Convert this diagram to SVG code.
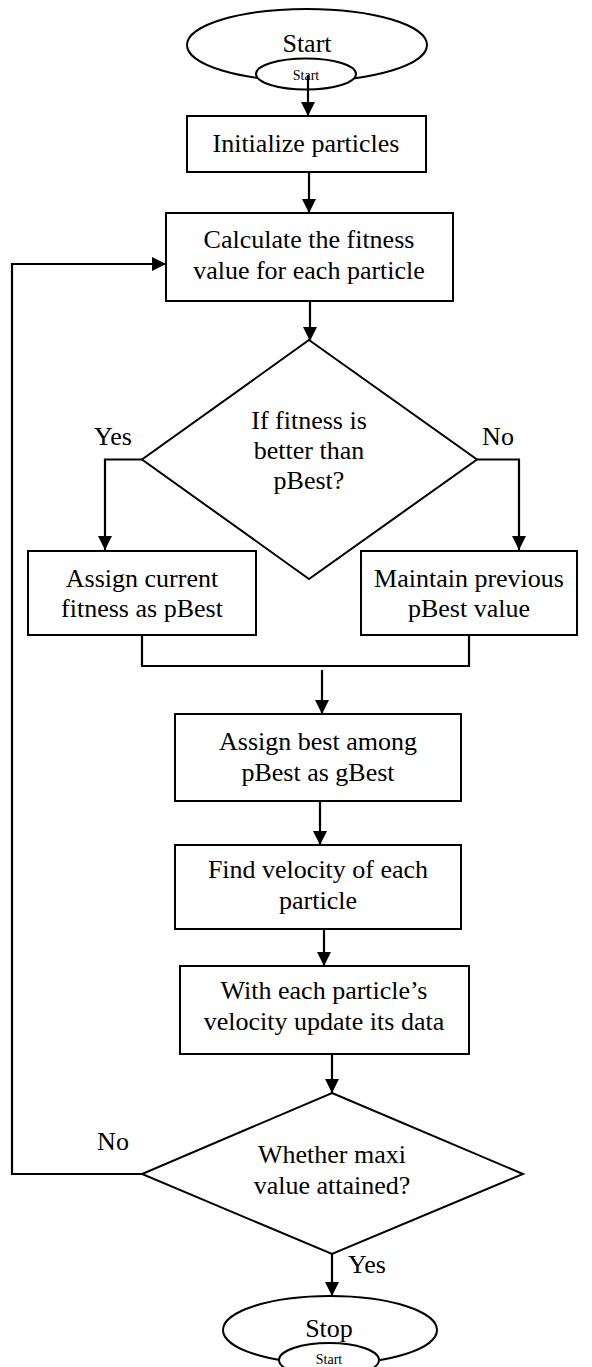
<svg xmlns="http://www.w3.org/2000/svg" width="592" height="1367" viewBox="0 0 592 1367">
<style>
  .shape { fill: #ffffff; stroke: #000000; stroke-width: 2; }
  .conn { fill: none; stroke: #000000; stroke-width: 2.2; }
  .t { font-family: "Liberation Serif", "Times New Roman", serif; font-size: 26px; fill: #000000; text-anchor: middle; }
  .ts { font-family: "Liberation Serif", "Times New Roman", serif; font-size: 14px; fill: #000000; text-anchor: middle; }
</style>
<defs>
  <marker id="arr" markerUnits="userSpaceOnUse" markerWidth="14" markerHeight="16" refX="14" refY="7" orient="auto">
    <path d="M0,0 L14,7 L0,14 Z" fill="#000000"/>
  </marker>
</defs>
<rect width="592" height="1367" fill="#ffffff"/>

<g id="start">
  <ellipse class="shape" cx="307" cy="45" rx="120" ry="36"/>
  <text class="t" x="307" y="52">Start</text>
  <ellipse class="shape" cx="306" cy="74" rx="50" ry="15.5"/>
  <text class="ts" x="306" y="80">Start</text>
</g>

<g id="init">
  <rect class="shape" x="187" y="116" width="239" height="56"/>
  <text class="t" x="306" y="152">Initialize particles</text>
</g>

<g id="calc">
  <rect class="shape" x="166" y="213" width="287" height="88"/>
  <text class="t" x="309" y="248">Calculate the fitness</text>
  <text class="t" x="309" y="279">value for each particle</text>
</g>

<g id="dec1">
  <polygon class="shape" points="309,340 477,459.5 309,579 142,459.5"/>
  <text class="t" x="309" y="429">If fitness is</text>
  <text class="t" x="309" y="459">better than</text>
  <text class="t" x="309" y="489">pBest?</text>
</g>

<g id="assign-current">
  <rect class="shape" x="28" y="551" width="228" height="84"/>
  <text class="t" x="142" y="587">Assign current</text>
  <text class="t" x="142" y="617">fitness as pBest</text>
</g>

<g id="maintain">
  <rect class="shape" x="361" y="551" width="216" height="84"/>
  <text class="t" x="469" y="587">Maintain previous</text>
  <text class="t" x="469" y="617">pBest value</text>
</g>

<g id="gbest">
  <rect class="shape" x="175" y="714" width="286" height="87"/>
  <text class="t" x="318" y="750">Assign best among</text>
  <text class="t" x="318" y="781">pBest as gBest</text>
</g>

<g id="velocity">
  <rect class="shape" x="175" y="845" width="286" height="84"/>
  <text class="t" x="318" y="878">Find velocity of each</text>
  <text class="t" x="318" y="909">particle</text>
</g>

<g id="update">
  <rect class="shape" x="180" y="966" width="289" height="88"/>
  <text class="t" x="324" y="999">With each particle’s</text>
  <text class="t" x="324" y="1030">velocity update its data</text>
</g>

<g id="dec2">
  <polygon class="shape" points="332,1093 523,1174 332,1254 142,1174"/>
  <text class="t" x="332" y="1163">Whether maxi</text>
  <text class="t" x="332" y="1194">value attained?</text>
</g>

<g id="stop">
  <ellipse class="shape" cx="330" cy="1330" rx="107" ry="34"/>
  <text class="t" x="329" y="1337">Stop</text>
  <ellipse class="shape" cx="329" cy="1360" rx="50" ry="17"/>
  <text class="ts" x="329" y="1364">Start</text>
</g>

<g id="connectors">
  <line class="conn" x1="308" y1="75" x2="308" y2="116" marker-end="url(#arr)"/>
  <line class="conn" x1="309" y1="172" x2="309" y2="213" marker-end="url(#arr)"/>
  <line class="conn" x1="310" y1="301" x2="310" y2="341" marker-end="url(#arr)"/>
  <polyline class="conn" points="142,459.5 105,459.5 105,550" marker-end="url(#arr)"/>
  <polyline class="conn" points="477,459.5 519,459.5 519,550" marker-end="url(#arr)"/>
  <polyline class="conn" points="142,635 142,666 469,666 469,635"/>
  <line class="conn" x1="322" y1="670" x2="322" y2="714" marker-end="url(#arr)"/>
  <line class="conn" x1="320" y1="801" x2="320" y2="845" marker-end="url(#arr)"/>
  <line class="conn" x1="324" y1="929" x2="324" y2="966" marker-end="url(#arr)"/>
  <line class="conn" x1="332" y1="1054" x2="332" y2="1093" marker-end="url(#arr)"/>
  <line class="conn" x1="332" y1="1254" x2="332" y2="1296" marker-end="url(#arr)"/>
  <polyline class="conn" points="142,1174 12,1174 12,264 166,264" marker-end="url(#arr)"/>
  <text class="t" x="113" y="445">Yes</text>
  <text class="t" x="498" y="445">No</text>
  <text class="t" x="113" y="1150">No</text>
  <text class="t" x="367" y="1273">Yes</text>
</g>
</svg>
